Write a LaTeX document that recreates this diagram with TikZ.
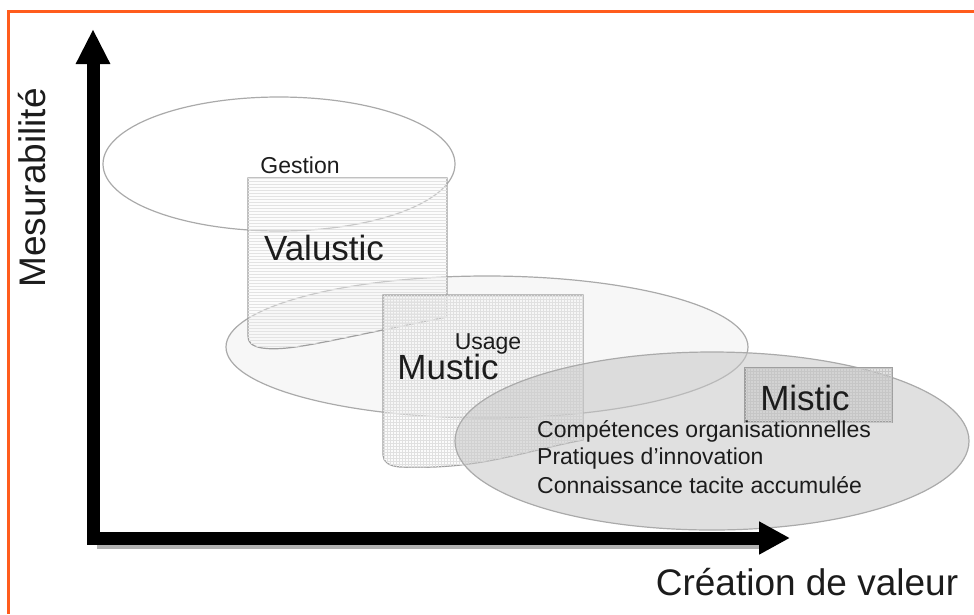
\documentclass[tikz,border=0pt]{standalone}
\usepackage{fontspec}
\setmainfont{Liberation Sans}
\usetikzlibrary{arrows.meta,patterns}

\definecolor{frameorange}{RGB}{255,92,28}
\definecolor{rimgray}{RGB}{170,170,170}
\definecolor{inkgray}{RGB}{28,28,28}

\tikzset{
  axis/.style={line width=13pt,line join=miter,
    {Triangle[length=35pt,width=32pt]}-{Triangle[length=31pt,width=31pt]}},
  zone/.style={draw=rimgray,line width=1.2pt},
  box/.style={draw=gray!75,line width=1.2pt},
  big/.style={font=\fontsize{35}{40}\selectfont,text=inkgray,inner sep=0pt},
  small/.style={font=\fontsize{23}{28}\selectfont,text=inkgray,inner sep=0pt},
  axislabel/.style={font=\fontsize{37}{42}\selectfont,text=inkgray,inner sep=0pt}
}

\begin{document}
\begin{tikzpicture}[x=1pt,y=-1pt]
    \useasboundingbox (0,0) rectangle (974,614);
    \draw[frameorange,line width=3pt] (974,11) -- (8,11) -- (8,614);

    % the three zones
    \draw[zone] (279,164) ellipse [x radius=176,y radius=67];
    \draw[zone,fill=gray!6] (487,347) ellipse [x radius=261,y radius=71];

    \draw[box,fill=gray!6,fill opacity=0.4,postaction={pattern=horizontal lines,pattern color=gray!22}]
      (248,178) -- (447,178) -- (447,317)
      .. controls (330,340) and (290,352) .. (262,348)
      .. controls (251,346) and (248,342) .. (248,336) -- cycle;
    \draw[box,fill=gray!8,fill opacity=0.4,postaction={pattern=grid,pattern color=gray!24}]
      (383,295) -- (583,295) -- (583,440)
      .. controls (520,452) and (480,470) .. (400,467)
      .. controls (389,466) and (383,462) .. (383,455) -- cycle;

    \draw[zone,fill=gray!45,fill opacity=0.55] (712,441) ellipse [x radius=257,y radius=89];
    \draw[box,fill=gray!45,fill opacity=0.5,postaction={pattern=grid,pattern color=gray!45}]
      (745,368) rectangle (892,422);

    % labels
    \node[small,anchor=base] (gestion) at (300,173) {Gestion};
    \node[big,anchor=base] (valustic) at (324,260) {Valustic};
    \node[small,anchor=base] (usage) at (488,349) {Usage};
    \node[big,anchor=base] (mustic) at (448,379) {Mustic};
    \node[big,anchor=base] (mistic) at (805,410) {Mistic};
    \node[small,anchor=base west] (comp) at (537,437) {Compétences organisationnelles};
    \node[small,anchor=base west] (prat) at (537,464) {Pratiques d’innovation};
    \node[small,anchor=base west] (conn) at (537,493) {Connaissance tacite accumulée};

    % axes
    \coordinate (ytip) at (93,29);
    \coordinate (origin) at (93,538);
    \coordinate (xtip) at (790,538);
    \coordinate (shadowa) at (97,547);
    \coordinate (shadowb) at (760,547);
    \draw[gray!60,line width=4pt] (shadowa) -- (shadowb);
    \draw[axis] (ytip) -- (origin) -- (xtip);

    \node[axislabel,rotate=90,anchor=base] (ylabel) at (45,188) {Mesurabilité};
    \node[axislabel,anchor=base] (xlabel) at (807,595) {Création de valeur};
\end{tikzpicture}
\end{document}
